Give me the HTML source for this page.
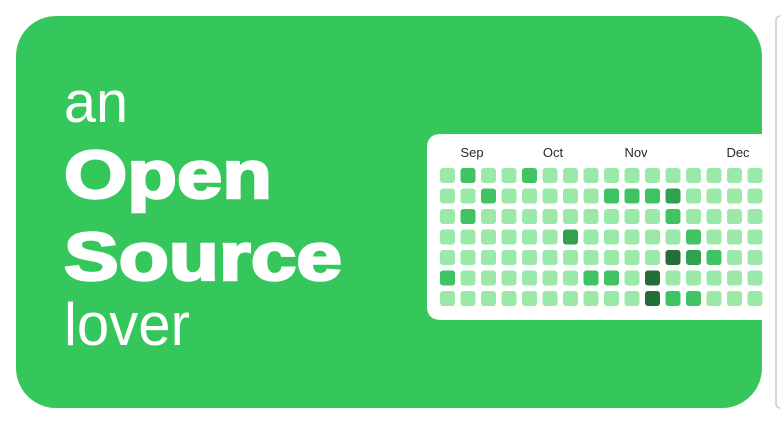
<!DOCTYPE html>
<html><head><style>
html,body{margin:0;padding:0;background:#fff;width:780px;height:424px;overflow:hidden}
</style></head><body>
<svg width="780" height="424" viewBox="0 0 780 424" xmlns="http://www.w3.org/2000/svg" xmlns:xlink="http://www.w3.org/1999/xlink">
<defs>
<g id="row" fill="#9be9a8">
<rect x="440" y="0" width="15" height="15" rx="3"/><rect x="460.5" y="0" width="15" height="15" rx="3"/>
<rect x="481" y="0" width="15" height="15" rx="3"/><rect x="501.5" y="0" width="15" height="15" rx="3"/>
<rect x="522" y="0" width="15" height="15" rx="3"/><rect x="542.5" y="0" width="15" height="15" rx="3"/>
<rect x="563" y="0" width="15" height="15" rx="3"/><rect x="583.5" y="0" width="15" height="15" rx="3"/>
<rect x="604" y="0" width="15" height="15" rx="3"/><rect x="624.5" y="0" width="15" height="15" rx="3"/>
<rect x="645" y="0" width="15" height="15" rx="3"/><rect x="665.5" y="0" width="15" height="15" rx="3"/>
<rect x="686" y="0" width="15" height="15" rx="3"/><rect x="706.5" y="0" width="15" height="15" rx="3"/>
<rect x="727" y="0" width="15" height="15" rx="3"/><rect x="747.5" y="0" width="15" height="15" rx="3"/>
</g>
</defs>
<rect x="776" y="16" width="8" height="392" rx="4" fill="#fff" stroke="#c8c8c8" stroke-width="1.5"/>
<rect x="16" y="16" width="746" height="392" rx="40" fill="#36c75c"/>
<g fill="#fff" font-family="Liberation Sans, Arial, sans-serif">
<text x="64" y="122" font-size="58" textLength="64" lengthAdjust="spacingAndGlyphs">an</text>
<text x="64" y="198" font-size="68" font-weight="bold" textLength="208" lengthAdjust="spacingAndGlyphs" stroke="#fff" stroke-width="2.5">Open</text>
<text x="64" y="280" font-size="68" font-weight="bold" textLength="278" lengthAdjust="spacingAndGlyphs" stroke="#fff" stroke-width="2.5">Source</text>
<text x="64" y="345" font-size="60" textLength="126" lengthAdjust="spacingAndGlyphs">lover</text>
</g>
<path d="M441 134 H762 V320 H441 Q427 320 427 306 V148 Q427 134 441 134 Z" fill="#fff"/>
<g font-family="Liberation Sans, Arial, sans-serif" font-size="13" fill="#24292e" text-anchor="middle">
<text x="472" y="157">Sep</text><text x="553" y="157">Oct</text><text x="636" y="157">Nov</text><text x="738" y="157">Dec</text>
</g>
<use xlink:href="#row" href="#row" y="168"/>
<use xlink:href="#row" href="#row" y="188.5"/>
<use xlink:href="#row" href="#row" y="209"/>
<use xlink:href="#row" href="#row" y="229.5"/>
<use xlink:href="#row" href="#row" y="250"/>
<use xlink:href="#row" href="#row" y="270.5"/>
<use xlink:href="#row" href="#row" y="291"/>
<g fill="#40c463">
<rect x="460.5" y="168" width="15" height="15" rx="3"/>
<rect x="522" y="168" width="15" height="15" rx="3"/>
<rect x="481" y="188.5" width="15" height="15" rx="3"/>
<rect x="604" y="188.5" width="15" height="15" rx="3"/>
<rect x="624.5" y="188.5" width="15" height="15" rx="3"/>
<rect x="645" y="188.5" width="15" height="15" rx="3"/>
<rect x="460.5" y="209" width="15" height="15" rx="3"/>
<rect x="665.5" y="209" width="15" height="15" rx="3"/>
<rect x="686" y="229.5" width="15" height="15" rx="3"/>
<rect x="706.5" y="250" width="15" height="15" rx="3"/>
<rect x="440" y="270.5" width="15" height="15" rx="3"/>
<rect x="583.5" y="270.5" width="15" height="15" rx="3"/>
<rect x="604" y="270.5" width="15" height="15" rx="3"/>
<rect x="665.5" y="291" width="15" height="15" rx="3"/>
<rect x="686" y="291" width="15" height="15" rx="3"/>
</g>
<g fill="#30a14e">
<rect x="665.5" y="188.5" width="15" height="15" rx="3"/>
<rect x="563" y="229.5" width="15" height="15" rx="3"/>
<rect x="686" y="250" width="15" height="15" rx="3"/>
</g>
<g fill="#216e39">
<rect x="665.5" y="250" width="15" height="15" rx="3"/>
<rect x="645" y="270.5" width="15" height="15" rx="3"/>
<rect x="645" y="291" width="15" height="15" rx="3"/>
</g>
</svg>
</body></html>
